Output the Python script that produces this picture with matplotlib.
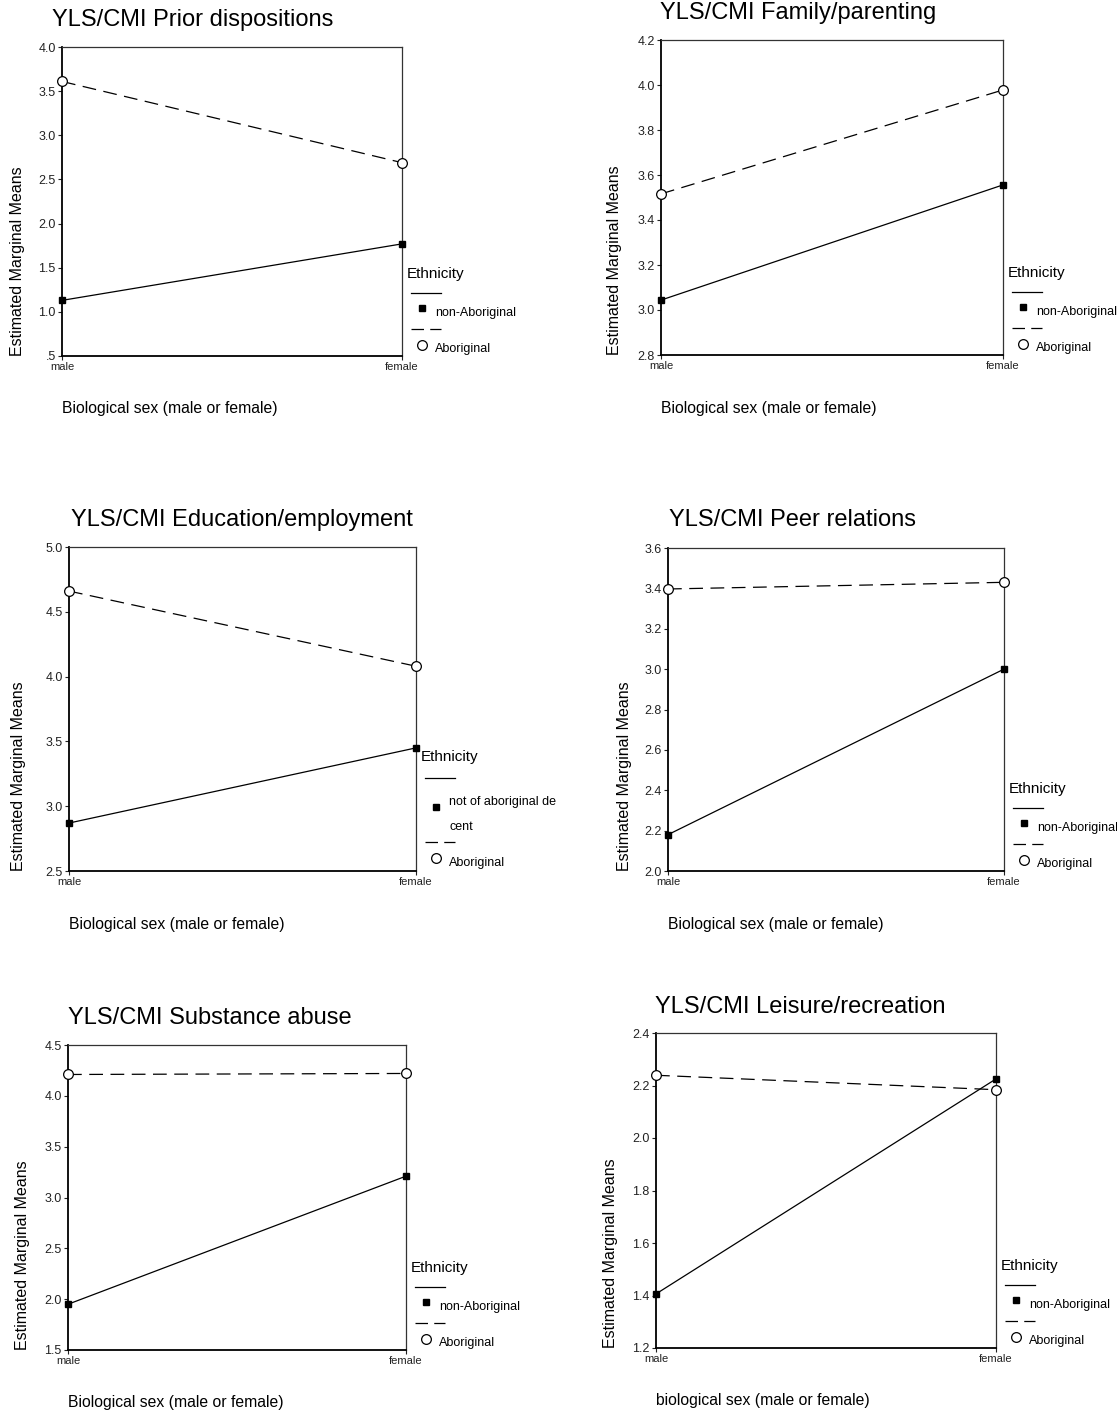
import matplotlib
matplotlib.use("Agg")
import matplotlib.pyplot as plt
from matplotlib.lines import Line2D

plt.rcParams['font.family'] = ['Liberation Sans', 'DejaVu Sans']

W, H = 1117, 1414

# data
sex = ["male", "female"]
titles = ["YLS/CMI Prior dispositions", "YLS/CMI Family/parenting",
          "YLS/CMI Education/employment", "YLS/CMI Peer relations",
          "YLS/CMI Substance abuse", "YLS/CMI Leisure/recreation"]
non_aboriginal = [[1.13, 1.77], [3.044, 3.556], [2.87, 3.45],
                  [2.18, 3.00], [1.95, 3.21], [1.406, 2.225]]
aboriginal = [[3.61, 2.69], [3.516, 3.978], [4.66, 4.08],
              [3.397, 3.43], [4.21, 4.22], [2.239, 2.184]]
ylims = [(0.5, 4.0), (2.8, 4.2), (2.5, 5.0), (2.0, 3.6), (1.5, 4.5), (1.2, 2.4)]
yticks = [[0.5, 1.0, 1.5, 2.0, 2.5, 3.0, 3.5, 4.0],
          [2.8, 3.0, 3.2, 3.4, 3.6, 3.8, 4.0, 4.2],
          [2.5, 3.0, 3.5, 4.0, 4.5, 5.0],
          [2.0, 2.2, 2.4, 2.6, 2.8, 3.0, 3.2, 3.4, 3.6],
          [1.5, 2.0, 2.5, 3.0, 3.5, 4.0, 4.5],
          [1.2, 1.4, 1.6, 1.8, 2.0, 2.2, 2.4]]
ytick_labels = [[".5", "1.0", "1.5", "2.0", "2.5", "3.0", "3.5", "4.0"],
                ["2.8", "3.0", "3.2", "3.4", "3.6", "3.8", "4.0", "4.2"],
                ["2.5", "3.0", "3.5", "4.0", "4.5", "5.0"],
                ["2.0", "2.2", "2.4", "2.6", "2.8", "3.0", "3.2", "3.4", "3.6"],
                ["1.5", "2.0", "2.5", "3.0", "3.5", "4.0", "4.5"],
                ["1.2", "1.4", "1.6", "1.8", "2.0", "2.2", "2.4"]]
xlabels = ["Biological sex (male or female)"] * 5 + ["biological sex (male or female)"]
ylabel = "Estimated Marginal Means"
legend_title = "Ethnicity"
non_labels = [["non-Aboriginal"], ["non-Aboriginal"], ["not of aboriginal de", "cent"],
              ["non-Aboriginal"], ["non-Aboriginal"], ["non-Aboriginal"]]
abor_label = "Aboriginal"

# layout in pixels: left, right, top, bottom of each plot box
boxes = [(62, 402, 47, 356), (661, 1003, 40, 355),
         (69, 416, 547, 871), (668, 1004, 548, 871),
         (68, 406, 1045, 1350), (656, 996, 1033, 1348)]
title_pos = [(52, 20), (660, 13), (71, 520), (669, 520), (68, 1018), (655, 1007)]
ylabel_x = [18, 615, 19, 624, 23, 610]
# legend rows, offsets in px above the box bottom:
# title, solid line, square, label line(s), dashed line, circle, label
leg_std = (-82, -63, -48, [-43], -27, -11, -7)
leg_wrap = (-114, -93, -64, [-69, -44], -29, -13, -8)
dash = (11, 6)
leg_dash = (10, 5)

fig = plt.figure(figsize=(W / 100, H / 100), dpi=100)


def fx(px):
    return px / W


def fy(py):
    return 1 - py / H


for i in range(6):
    l, r, t, b = boxes[i]
    ax = fig.add_axes([fx(l), fy(b), (r - l) / W, (b - t) / H])
    ax.plot([0, 1], non_aboriginal[i], color="black", lw=0.9,
            marker="s", ms=4.3, mfc="black", mec="black", clip_on=False, zorder=3)
    ax.plot([0, 1], aboriginal[i], color="black", lw=0.9, dashes=dash,
            marker="o", ms=7, mfc="white", mec="black", mew=0.9,
            clip_on=False, zorder=3)
    ax.set_xlim(0, 1)
    ax.set_ylim(*ylims[i])
    ax.set_xticks([0, 1])
    ax.set_xticklabels(sex, fontsize=8)
    ax.set_yticks(yticks[i])
    ax.set_yticklabels(ytick_labels[i], fontsize=9)
    ax.tick_params(axis="both", direction="out", length=3, width=0.8, pad=1.5,
                   colors="#222222")
    for s in ["left", "bottom"]:
        ax.spines[s].set_linewidth(1.3)
        ax.spines[s].set_color("black")
    for s in ["top", "right"]:
        ax.spines[s].set_linewidth(0.9)
        ax.spines[s].set_color("#333333")

    tx, ty = title_pos[i]
    fig.text(fx(tx), fy(ty), titles[i], fontsize=17, ha="left", va="center")
    fig.text(fx(ylabel_x[i]), fy(b), ylabel, rotation=90, fontsize=11.5,
             ha="center", va="bottom")
    fig.text(fx(l), fy(b + 53), xlabels[i], fontsize=11.3, ha="left", va="center")

    # legend in the SPSS layout, right of the box
    eth, sol, sq, txts, dsh, circ, abt = leg_wrap if len(non_labels[i]) > 1 else leg_std
    fig.text(fx(r + 5), fy(b + eth), legend_title, fontsize=11, ha="left", va="center")
    fig.add_artist(Line2D([fx(r + 9), fx(r + 39)], [fy(b + sol)] * 2,
                          transform=fig.transFigure, color="black", lw=0.9))
    fig.add_artist(Line2D([fx(r + 20)], [fy(b + sq)], transform=fig.transFigure,
                          marker="s", ms=4.3, color="black", lw=0))
    for k, line in enumerate(non_labels[i]):
        fig.text(fx(r + 33), fy(b + txts[k]), line, fontsize=9, ha="left", va="center")
    fig.add_artist(Line2D([fx(r + 9), fx(r + 39)], [fy(b + dsh)] * 2,
                          transform=fig.transFigure, color="black", lw=0.9,
                          dashes=leg_dash))
    fig.add_artist(Line2D([fx(r + 20)], [fy(b + circ)], transform=fig.transFigure,
                          marker="o", ms=7, mfc="white", mec="black", mew=0.9, lw=0))
    fig.text(fx(r + 33), fy(b + abt), abor_label, fontsize=9, ha="left", va="center")

fig.savefig("out.png", dpi=100)
